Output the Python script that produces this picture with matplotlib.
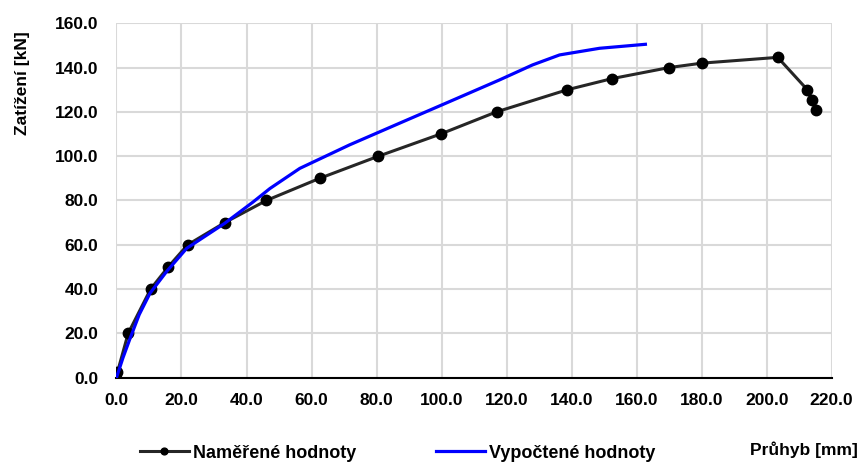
import numpy as np
import matplotlib
matplotlib.use('Agg')
import matplotlib.pyplot as plt

plt.rcParams['font.family'] = ['Liberation Sans', 'DejaVu Sans']
plt.rcParams['font.weight'] = 'bold'

# measured values (Naměřené hodnoty)
meas_x = [0.0, 0.3, 3.6, 10.5, 15.9, 21.9, 33.3, 46.1, 62.5, 80.6, 99.7, 116.9,
          138.7, 152.4, 170.0, 180.1, 203.4, 212.5, 213.9, 215.3]
meas_y = [0.0, 2.5, 20.0, 40.0, 50.0, 60.0, 70.0, 80.0, 90.0, 100.0, 110.0, 120.0,
          130.0, 135.0, 140.0, 142.0, 144.6, 130.0, 125.4, 120.7]

# computed values (Vypočtené hodnoty)
calc_x = [0.0, 2.0, 4.0, 7.0, 10.3, 15.4, 21.6, 33.3, 42.0, 47.2, 56.4, 71.7,
          87.1, 102.4, 117.8, 128.0, 136.3, 148.6, 162.7]
calc_y = [0.0, 9.0, 17.0, 28.5, 38.1, 47.9, 58.4, 69.7, 79.3, 85.4, 94.5, 105.1,
          114.9, 124.6, 134.4, 141.2, 145.7, 148.7, 150.5]

xticks = np.arange(0, 221, 20)
yticks = np.arange(0, 161, 20)

fig = plt.figure(figsize=(8.64, 4.65), dpi=100)
ax = fig.add_axes([0.1348, 0.1877, 0.8278, 0.7623])

ax.plot(meas_x, meas_y, color='#262626', lw=2.2, marker='o', ms=7.5,
        mfc='black', mec='black', label='Naměřené hodnoty', zorder=3)
ax.plot(calc_x, calc_y, color='#0000ff', lw=2.3, label='Vypočtené hodnoty', zorder=4)

ax.set_xlim(0, 220)
ax.set_ylim(0, 160)
ax.set_xticks(xticks)
ax.set_yticks(yticks)
ax.set_xticklabels(['%.1f' % v for v in xticks])
ax.set_yticklabels(['%.1f' % v for v in yticks])
ax.tick_params(length=0, labelsize=12.5)
ax.tick_params(axis='x', pad=11)
ax.tick_params(axis='y', pad=13)
ax.grid(True, color='#d9d9d9', lw=1.5)
ax.set_axisbelow(True)
for s in ['top', 'right', 'left']:
    ax.spines[s].set_visible(False)
ax.spines['bottom'].set_color('black')
ax.spines['bottom'].set_linewidth(1.5)
ax.spines['bottom'].set_zorder(2)

ax.set_ylabel('Zatížení [kN]', fontsize=12.5, fontweight='bold')
ax.yaxis.set_label_coords(-0.121, 0.832)
fig.text(0.930, 0.032, 'Průhyb [mm]', fontsize=12.5, fontweight='bold',
         ha='center', va='center')

fig.legend(loc='center left', bbox_to_anchor=(0.143, 1 - 453 / 465), ncol=2,
           frameon=False, fontsize=13, handlelength=2.7, columnspacing=4.4,
           handletextpad=0.25, markerscale=0.65)

fig.savefig('out.png', dpi=100)
